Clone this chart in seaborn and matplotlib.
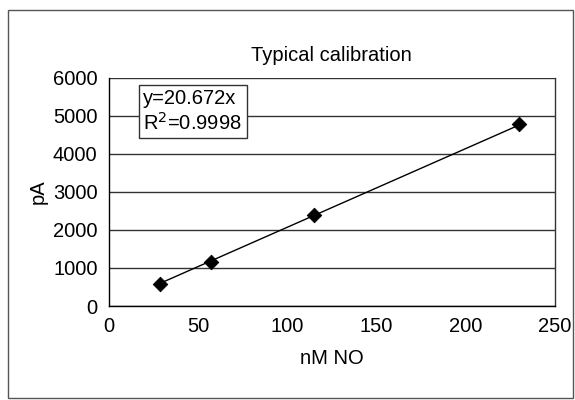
import matplotlib
matplotlib.use("Agg")
import matplotlib.pyplot as plt
import seaborn as sns
import pandas as pd
from matplotlib.patches import Rectangle

sns.set_style("white")
plt.rcParams['font.family'] = ['Liberation Sans', 'DejaVu Sans']

conc = [28.75, 57.5, 115, 230]
current = [590, 1150, 2380, 4780]
slope = 20.672
r2 = 0.9998
xticks = [0, 50, 100, 150, 200, 250]
yticks = [0, 1000, 2000, 3000, 4000, 5000, 6000]

df = pd.DataFrame({"conc": conc, "current": current})
fit = pd.DataFrame({"conc": [min(conc), max(conc)]})
fit["current"] = slope * fit["conc"]

fig = plt.figure(figsize=(5.75, 4), dpi=100)
fig.patches.append(Rectangle((0.014, 0.005), 0.982, 0.97, transform=fig.transFigure,
                             fill=False, edgecolor="#555555", linewidth=1.0))
ax = fig.add_axes([0.189, 0.235, 0.776, 0.571])

sns.lineplot(data=fit, x="conc", y="current", ax=ax, color="black", linewidth=1.0)
sns.scatterplot(data=df, x="conc", y="current", ax=ax, marker="D", s=55,
                color="black", edgecolor="black", zorder=5)

ax.set_xlim(0, 250)
ax.set_ylim(0, 6000)
ax.set_xticks(xticks)
ax.set_yticks(yticks)
ax.tick_params(axis="both", labelsize=14.5, length=5, width=1, direction="out",
               colors="black", pad=3)
ax.tick_params(axis="y", pad=3)
ax.yaxis.grid(True, color="#333333", linewidth=1.0)
ax.xaxis.grid(False)
for s in ["left", "bottom"]:
    ax.spines[s].set_color("black")
    ax.spines[s].set_linewidth(1.0)
ax.spines["top"].set_visible(False)
ax.spines["right"].set_color("#333333")
ax.spines["right"].set_linewidth(1.0)
ax.set_xlabel("nM NO", fontsize=14.5, labelpad=9, color="black")
ax.set_ylabel("pA", fontsize=14.5, labelpad=4, color="black")
ax.set_title("Typical calibration", fontsize=14.5, pad=12, color="black")

ax.text(19.5, 5700, f"y={slope}x\nR$^2$={r2}", fontsize=14.5, va="top", ha="left",
        linespacing=1.2, color="black",
        bbox=dict(boxstyle="square,pad=0.22", facecolor="white", edgecolor="#333333",
                  linewidth=1.0), zorder=6)

fig.savefig("out.png", dpi=100)
